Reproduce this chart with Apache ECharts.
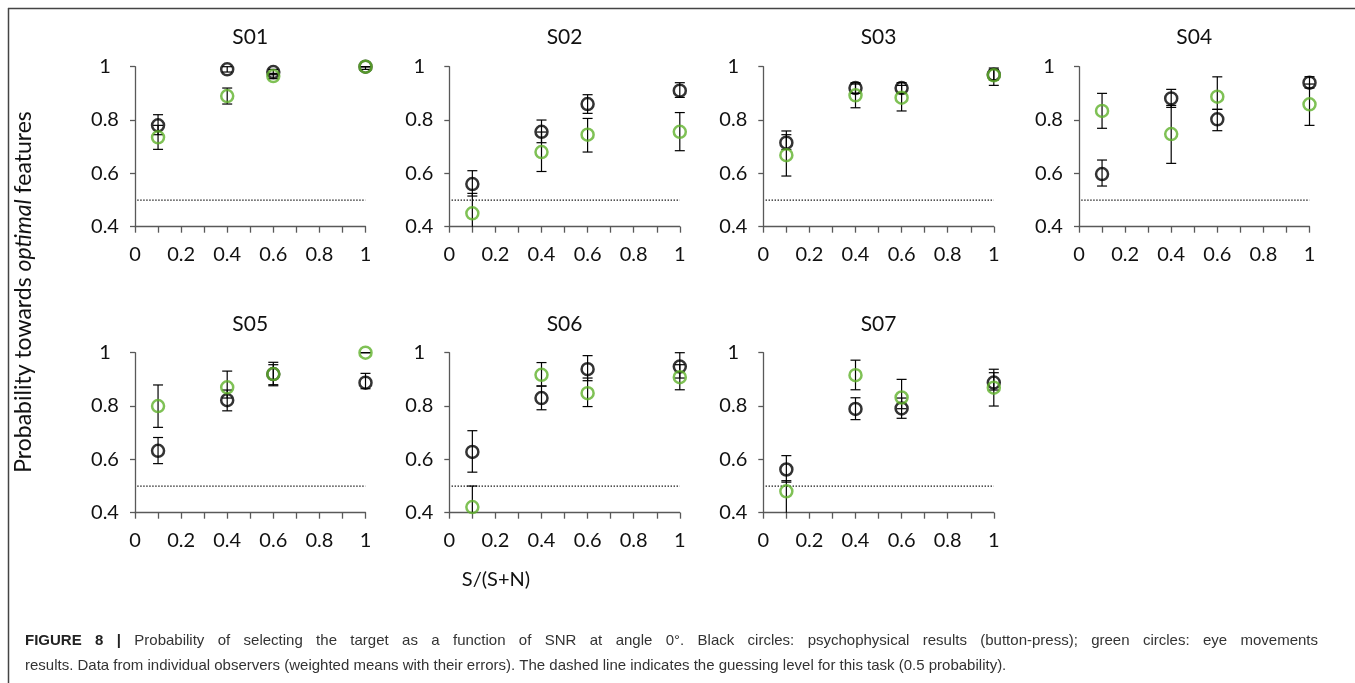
<!DOCTYPE html>
<html>
<head>
<meta charset="utf-8">
<script src="https://cdn.jsdelivr.net/npm/echarts@6/dist/echarts.min.js"></script>
<style>
html,body{margin:0;padding:0;background:#fff;}
#chart{width:1355px;height:683px;}
</style>
</head>
<body>
<div id="chart"></div>
<script>
// ---------------- DATA ----------------
const subjects = ['S01','S02','S03','S04','S05','S06','S07'];
const snr = [0.1, 0.4, 0.6, 1];
const guessLevel = [[0.01, 0.5], [1, 0.5]];

// black circles: psychophysical results (button-press)
const blackMean = [
  [0.78, 0.99, 0.98, 1.0],
  [0.56, 0.756, 0.86, 0.91],
  [0.715, 0.92, 0.92, 0.97],
  [0.5975, 0.881, 0.8025, 0.94],
  [0.632, 0.822, 0.92, 0.8875],
  [0.628, 0.83, 0.938, 0.948],
  [0.562, 0.789, 0.791, 0.888]
];
const blackLow = [
  [0.745, 0.98, 0.97, 0.99],
  [0.515, 0.715, 0.825, 0.885],
  [0.69, 0.90, 0.90, 0.95],
  [0.5525, 0.8475, 0.76, 0.92],
  [0.584, 0.782, 0.88, 0.865],
  [0.552, 0.786, 0.895, 0.905],
  [0.5146, 0.749, 0.754, 0.86]
];
const blackHigh = [
  [0.82, 1.0, 0.99, 1.0],
  [0.61, 0.80, 0.895, 0.94],
  [0.745, 0.94, 0.94, 0.99],
  [0.65, 0.915, 0.84, 0.9625],
  [0.682, 0.86, 0.955, 0.9225],
  [0.7075, 0.875, 0.989, 1.0],
  [0.614, 0.831, 0.83, 0.938]
];
// green circles: eye movements results
const greenMean = [
  [0.735, 0.89, 0.965, 1.0],
  [0.45, 0.68, 0.745, 0.756],
  [0.668, 0.8925, 0.884, 0.9675],
  [0.834, 0.7475, 0.8875, 0.859],
  [0.80, 0.87, 0.92, 1.0],
  [0.421, 0.917, 0.848, 0.908],
  [0.48, 0.9156, 0.832, 0.869]
];
const greenLow = [
  [0.69, 0.86, 0.955, 1.0],
  [0.38, 0.607, 0.68, 0.685],
  [0.59, 0.846, 0.834, 0.93],
  [0.769, 0.6375, 0.84, 0.78],
  [0.72, 0.83, 0.876, 1.0],
  [0.35, 0.875, 0.798, 0.861],
  [0.35, 0.861, 0.79, 0.80]
];
const greenHigh = [
  [0.78, 0.92, 0.975, 1.0],
  [0.525, 0.755, 0.806, 0.828],
  [0.759, 0.935, 0.93, 0.995],
  [0.9, 0.855, 0.962, 0.935],
  [0.879, 0.931, 0.964, 1.0],
  [0.5, 0.963, 0.905, 0.955],
  [0.52, 0.972, 0.90, 0.925]
];
const xTicks = {min: 0, max: 1, step: 0.1};
const yTicks = {min: 0.4, max: 1, step: 0.2};

const yAxisTitle = ['Probability towards ', 'optimal', ' features'];
const xAxisTitle = 'S/(S+N)';
const captionLine1Bold = 'FIGURE 8 |';
const captionLine1 = 'Probability of selecting the target as a function of SNR at angle 0°. Black circles: psychophysical results (button-press); green circles: eye movements';
const captionLine2 = 'results. Data from individual observers (weighted means with their errors). The dashed line indicates the guessing level for this task (0.5 probability).';

// ---------------- LAYOUT ----------------
const FONT = 'Lato, "Open Sans", sans-serif';
const CAPFONT = '"Liberation Sans", Arial, sans-serif';
const CAPSIZE = 15;
const GREEN = '#5fb12a';
const BLACK = '#111';
const AXIS = '#595959';
const lefts = [135, 449.3, 763.3, 1079];
const tops = [66.7, 352.7];
const W = 230.5, H = 160;
const titleY = [37, 324];

const grids = [], xAxes = [], yAxes = [], series = [], graphics = [];

subjects.forEach((name, i) => {
  const row = i < 4 ? 0 : 1;
  const col = i < 4 ? i : i - 4;
  const left = lefts[col], top = tops[row];
  grids.push({left: left, top: top, width: W, height: H, containLabel: false});
  xAxes.push({
    gridIndex: i, type: 'value', min: xTicks.min, max: xTicks.max, interval: xTicks.step,
    axisLine: {show: true, onZero: false, lineStyle: {color: AXIS, width: 1.3}},
    axisTick: {show: true, inside: false, length: 6, lineStyle: {color: AXIS, width: 1.3}},
    splitLine: {show: false},
    axisLabel: {
      margin: 18, color: BLACK, fontFamily: FONT, fontSize: 20,
      formatter: v => (Math.round(v * 10) % 2 === 0 ? String(Math.round(v * 10) / 10) : '')
    }
  });
  yAxes.push({
    gridIndex: i, type: 'value', min: yTicks.min, max: yTicks.max, interval: yTicks.step,
    axisLine: {show: true, onZero: false, lineStyle: {color: AXIS, width: 1.3}},
    axisTick: {show: true, inside: false, length: 5, lineStyle: {color: AXIS, width: 1.3}},
    splitLine: {show: false},
    axisLabel: {margin: 30, align: 'center', color: BLACK, fontFamily: FONT, fontSize: 20}
  });
  graphics.push({
    type: 'text', x: left + W / 2, y: titleY[row],
    style: {text: name, fill: BLACK, font: '21px ' + FONT, align: 'center', verticalAlign: 'middle'}
  });

  // guessing level
  series.push({
    type: 'line', xAxisIndex: i, yAxisIndex: i, data: guessLevel, symbol: 'none',
    lineStyle: {type: [1.3, 1.7], width: 1.3, color: '#000'}, silent: true, z: 1
  });

  const errData = (lo, hi) => snr.map((x, k) => [x, lo[i][k], hi[i][k]]);
  const renderErr = (params, api) => {
    const x = api.value(0), lo = api.value(1), hi = api.value(2);
    const pLo = api.coord([x, lo]), pHi = api.coord([x, hi]);
    const cs = params.coordSys;
    const yTop = cs.y, yBot = cs.y + cs.height;
    const cap = 5;
    const style = {stroke: '#000', lineWidth: 1.2};
    const y1 = Math.max(pHi[1], yTop), y2 = Math.min(pLo[1], yBot);
    const children = [{type: 'line', shape: {x1: pLo[0], y1: y1, x2: pLo[0], y2: y2}, style: style}];
    if (pHi[1] >= yTop - 0.5) children.push({type: 'line', shape: {x1: pHi[0] - cap, y1: pHi[1], x2: pHi[0] + cap, y2: pHi[1]}, style: style});
    if (pLo[1] <= yBot + 0.5) children.push({type: 'line', shape: {x1: pLo[0] - cap, y1: pLo[1], x2: pLo[0] + cap, y2: pLo[1]}, style: style});
    return {type: 'group', children: children};
  };
  series.push({type: 'custom', xAxisIndex: i, yAxisIndex: i, data: errData(blackLow, blackHigh), renderItem: renderErr, z: 2, silent: true});
  series.push({type: 'custom', xAxisIndex: i, yAxisIndex: i, data: errData(greenLow, greenHigh), renderItem: renderErr, z: 2, silent: true});

  series.push({
    type: 'scatter', xAxisIndex: i, yAxisIndex: i, z: 3,
    data: snr.map((x, k) => [x, blackMean[i][k]]),
    symbol: 'circle', symbolSize: 12,
    itemStyle: {color: 'rgba(0,0,0,0)', borderColor: '#000', borderWidth: 2.5}
  });
  series.push({
    type: 'scatter', xAxisIndex: i, yAxisIndex: i, z: 4,
    data: snr.map((x, k) => [x, greenMean[i][k]]),
    symbol: 'circle', symbolSize: 12,
    itemStyle: {color: 'rgba(0,0,0,0)', borderColor: GREEN, borderWidth: 2.5}
  });
});

// frame lines (top and left)
graphics.push({type: 'line', shape: {x1: 8, y1: 8.5, x2: 1355, y2: 8.5}, style: {stroke: '#444', lineWidth: 1.5}});
graphics.push({type: 'line', shape: {x1: 8.5, y1: 8, x2: 8.5, y2: 683}, style: {stroke: '#444', lineWidth: 1.5}});

// y axis title
graphics.push({
  type: 'text', x: 24, y: 292, rotation: Math.PI / 2,
  style: {
    text: '{n|' + yAxisTitle[0] + '}{i|' + yAxisTitle[1] + '}{n|' + yAxisTitle[2] + '}',
    align: 'center', verticalAlign: 'middle',
    rich: {
      n: {fontFamily: FONT, fontSize: 23, fill: BLACK},
      i: {fontFamily: FONT, fontSize: 23, fontStyle: 'italic', fill: BLACK}
    }
  }
});
// x axis title
graphics.push({
  type: 'text', x: 496, y: 580,
  style: {text: xAxisTitle, fill: BLACK, font: '20px ' + FONT, align: 'center', verticalAlign: 'middle'}
});

// caption line 1: justified between x=25 and x=1318
(function () {
  const ctx = document.createElement('canvas').getContext('2d');
  const boldFont = 'bold ' + CAPSIZE + 'px ' + CAPFONT;
  const regFont = CAPSIZE + 'px ' + CAPFONT;
  const words = captionLine1Bold.split(' ').map(w => ({t: w, f: boldFont, c: '#222'}))
    .concat(captionLine1.split(' ').map(w => ({t: w, f: regFont, c: '#333'})));
  let total = 0;
  words.forEach(w => { ctx.font = w.f; w.w = ctx.measureText(w.t).width; total += w.w; });
  const x0 = 25, x1 = 1318;
  const gap = (x1 - x0 - total) / (words.length - 1);
  let x = x0;
  words.forEach(w => {
    graphics.push({type: 'text', x: x, y: 641, style: {text: w.t, font: w.f, fill: w.c, align: 'left', verticalAlign: 'middle'}});
    x += w.w + gap;
  });
})();
graphics.push({
  type: 'text', x: 25, y: 666,
  style: {text: captionLine2, fill: '#333', font: CAPSIZE + 'px ' + CAPFONT, align: 'left', verticalAlign: 'middle'}
});

const chart = echarts.init(document.getElementById('chart'), null, {renderer: 'canvas'});
chart.setOption({
  animation: false,
  backgroundColor: '#fff',
  grid: grids,
  xAxis: xAxes,
  yAxis: yAxes,
  series: series,
  graphic: graphics
});
</script>
</body>
</html>
